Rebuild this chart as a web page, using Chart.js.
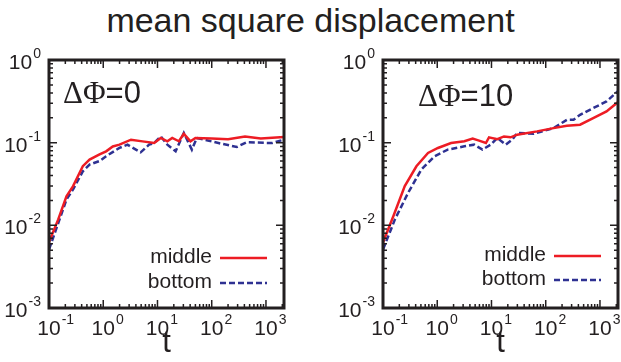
<!DOCTYPE html>
<html>
<head>
<meta charset="utf-8">
<script src="https://cdn.jsdelivr.net/npm/chart.js@4.4.0/dist/chart.umd.min.js"></script>
<style>
  html, body { margin: 0; padding: 0; background: #fff; }
  #wrap { position: relative; width: 621px; height: 362px; overflow: hidden; }
  #title { position: absolute; left: 0; top: 1px; width: 621px; text-align: center;
           font-family: "Liberation Sans", Arial, sans-serif; font-size: 34px; line-height: 38px; color: #231f20; }
  .panel { position: absolute; top: 40px; }
</style>
</head>
<body>
<div id="wrap">
  <div id="title">mean square displacement</div>
  <div class="panel" style="left:0"><canvas id="left" width="310" height="322"></canvas></div>
  <div class="panel" style="left:310px"><canvas id="right" width="311" height="322"></canvas></div>
</div>
<script>
// values
const seriesNames = ["middle", "bottom"];
const panelLabels = ["=0", "=10"];
const xTickExps = [-1, 0, 1, 2, 3];
const yTickExps = [-3, -2, -1, 0];

// dPhi = 0
const tMid0 = [0.1, 0.148, 0.21, 0.278, 0.42, 0.56, 0.855, 1.13, 1.5, 1.99, 3.25, 5.3, 8.7, 11.5, 15.2, 18.7, 24.8, 30.6, 40.6, 50, 100, 200, 411, 800, 2150];
const msdMid0 = [0.0063, 0.0118, 0.0225, 0.0298, 0.052, 0.0624, 0.072, 0.0786, 0.09, 0.0946, 0.1087, 0.1037, 0.099, 0.114, 0.104, 0.114, 0.104, 0.128, 0.104, 0.114, 0.112, 0.11, 0.119, 0.112, 0.117];
const tBot0 = [0.1, 0.21, 0.278, 0.42, 0.56, 0.855, 1.13, 1.74, 1.99, 2.8, 4.0, 4.9, 7.0, 8.7, 11.5, 15.2, 21.6, 30.6, 43, 53, 133, 290, 440, 1300, 2150];
const msdBot0 = [0.0051, 0.0205, 0.0272, 0.045, 0.0543, 0.06, 0.0684, 0.082, 0.0863, 0.0946, 0.0824, 0.0764, 0.0946, 0.099, 0.119, 0.0946, 0.0786, 0.131, 0.0824, 0.114, 0.099, 0.0887, 0.101, 0.099, 0.109];

// dPhi = 10
const tMid10 = [0.1, 0.155, 0.252, 0.413, 0.676, 1.03, 1.8, 3.16, 4.5, 5.9, 7.9, 9.0, 12.8, 17, 22.5, 29.8, 69, 139, 245, 430, 750, 1320, 2150];
const msdMid10 = [0.0062, 0.0129, 0.0298, 0.0518, 0.0751, 0.0863, 0.099, 0.104, 0.112, 0.106, 0.099, 0.116, 0.11, 0.119, 0.116, 0.125, 0.137, 0.150, 0.160, 0.165, 0.198, 0.239, 0.31];
const tBot10 = [0.1, 0.166, 0.291, 0.51, 0.89, 1.56, 3.16, 4.8, 6.8, 9.7, 12.8, 18.3, 24.2, 29.8, 60, 139, 245, 325, 430, 750, 1320, 2150];
const msdBot10 = [0.0051, 0.0118, 0.0248, 0.0473, 0.0684, 0.0824, 0.0903, 0.0946, 0.0824, 0.0946, 0.114, 0.0946, 0.109, 0.131, 0.128, 0.150, 0.189, 0.189, 0.217, 0.262, 0.315, 0.42];

const INK = "#231f20";
const SANS = "'Liberation Sans', Arial, sans-serif";
const SERIF = "'Liberation Serif', 'Times New Roman', serif";

function pts(xs, ys) {
    return xs.map((x, i) => ({ x: x, y: ys[i] }));
}

// draws "10" with a raised exponent
function drawPow(ctx, x, baseline, exp, align) {
    const base = "10", sup = String(exp);
    ctx.font = "21px " + SANS;
    const wb = ctx.measureText(base).width;
    ctx.font = "14px " + SANS;
    const ws = ctx.measureText(sup).width;
    let x0;
    if (align === "center") x0 = x - wb / 2;   // "10" centred on the tick
    else x0 = x - wb - ws;                       // right aligned
    ctx.textAlign = "left";
    ctx.textBaseline = "alphabetic";
    ctx.font = "21px " + SANS;
    ctx.fillText(base, x0, baseline);
    ctx.font = "14px " + SANS;
    ctx.fillText(sup, x0 + wb + 1, baseline - 11);
}

const framePlugin = {
    id: "frame",
    afterDraw(chart, args, opts) {
        const ctx = chart.ctx;
        const a = chart.chartArea;
        const xs = chart.scales.x, ys = chart.scales.y;
        ctx.save();
        ctx.fillStyle = INK;
        ctx.strokeStyle = INK;

        // inward ticks on all sides
        ctx.lineWidth = 1.5;
        ctx.beginPath();
        xTickExps.forEach(e => {
            for (let k = 1; k <= 9; k++) {
                const v = k * Math.pow(10, e);
                if (v < xs.min || v > xs.max) continue;
                const px = xs.getPixelForValue(v);
                const len = k === 1 ? 8 : 4;
                ctx.moveTo(px, a.bottom); ctx.lineTo(px, a.bottom - len);
                ctx.moveTo(px, a.top); ctx.lineTo(px, a.top + len);
            }
        });
        yTickExps.forEach(e => {
            for (let k = 1; k <= 9; k++) {
                const v = k * Math.pow(10, e);
                if (v < ys.min || v > ys.max) continue;
                const py = ys.getPixelForValue(v);
                const len = k === 1 ? 8 : 4;
                ctx.moveTo(a.left, py); ctx.lineTo(a.left + len, py);
                ctx.moveTo(a.right, py); ctx.lineTo(a.right - len, py);
            }
        });
        ctx.stroke();

        ctx.lineWidth = 3;
        ctx.strokeRect(a.left, a.top, a.right - a.left, a.bottom - a.top);

        // tick labels
        xTickExps.forEach(e => {
            drawPow(ctx, xs.getPixelForValue(Math.pow(10, e)), a.bottom + 27, e, "center");
        });
        yTickExps.forEach(e => {
            drawPow(ctx, a.left - 9, ys.getPixelForValue(Math.pow(10, e)) + 9, e, "right");
        });

        // panel label
        ctx.textAlign = "left";
        ctx.textBaseline = "alphabetic";
        ctx.font = "31px " + SERIF;
        const lx = a.left + opts.labelX, ly = a.top + opts.labelY;
        ctx.fillText("\u0394\u03A6", lx, ly);
        const w = ctx.measureText("\u0394\u03A6").width;
        ctx.font = "31px " + SANS;
        ctx.fillText(opts.label, lx + w, ly);

        // legend
        chart.data.datasets.forEach((ds, i) => {
            const y = a.top + opts.legendY[i];
            const tx = a.left + opts.legendX;
            ctx.font = "21px " + SANS;
            ctx.fillStyle = INK;
            ctx.textAlign = "right";
            ctx.textBaseline = "middle";
            ctx.fillText(ds.label, tx, y);
            ctx.strokeStyle = ds.borderColor;
            ctx.lineWidth = ds.borderWidth;
            ctx.setLineDash(ds.borderDash || []);
            ctx.beginPath();
            ctx.moveTo(tx + 8, y + 1);
            ctx.lineTo(tx + 55, y + 1);
            ctx.stroke();
            ctx.setLineDash([]);
        });
        ctx.restore();
    }
};

function makePanel(id, tM, vM, tB, vB, label, yWidth, padRight, labelX, labelY, legendY) {
    return new Chart(document.getElementById(id), {
        type: "line",
        data: {
            datasets: [{
                label: seriesNames[0],
                data: pts(tM, vM),
                borderColor: "#ed1c24",
                borderWidth: 2.5,
                pointRadius: 0,
                tension: 0
            }, {
                label: seriesNames[1],
                data: pts(tB, vB),
                borderColor: "#2e3192",
                borderWidth: 2.5,
                borderDash: [6, 3],
                pointRadius: 0,
                tension: 0
            }]
        },
        options: {
            responsive: false,
            animation: false,
            layout: { padding: { top: 20, right: padRight, left: 0, bottom: 0 } },
            plugins: {
                legend: { display: false },
                tooltip: { enabled: false },
                frame: { label: label, labelX: labelX, labelY: labelY, legendX: 163, legendY: legendY }
            },
            scales: {
                x: {
                    type: "logarithmic",
                    min: 0.1,
                    max: 2150,
                    grid: { display: false },
                    border: { display: false },
                    ticks: { display: false },
                    title: { display: true, text: "t", color: INK, font: { family: SANS, size: 31 }, padding: 0 },
                    afterFit(s) { s.height = 54; }
                },
                y: {
                    type: "logarithmic",
                    min: 0.001,
                    max: 1,
                    grid: { display: false },
                    border: { display: false },
                    ticks: { display: false },
                    afterFit(s) { s.width = yWidth; }
                }
            }
        },
        plugins: [framePlugin]
    });
}

makePanel("left", tMid0, msdMid0, tBot0, msdBot0, panelLabels[0], 49, 26, 14, 43, [197, 222]);
makePanel("right", tMid10, msdMid10, tBot10, msdBot10, panelLabels[1], 73, 3, 35, 46, [195, 219]);
</script>
</body>
</html>
